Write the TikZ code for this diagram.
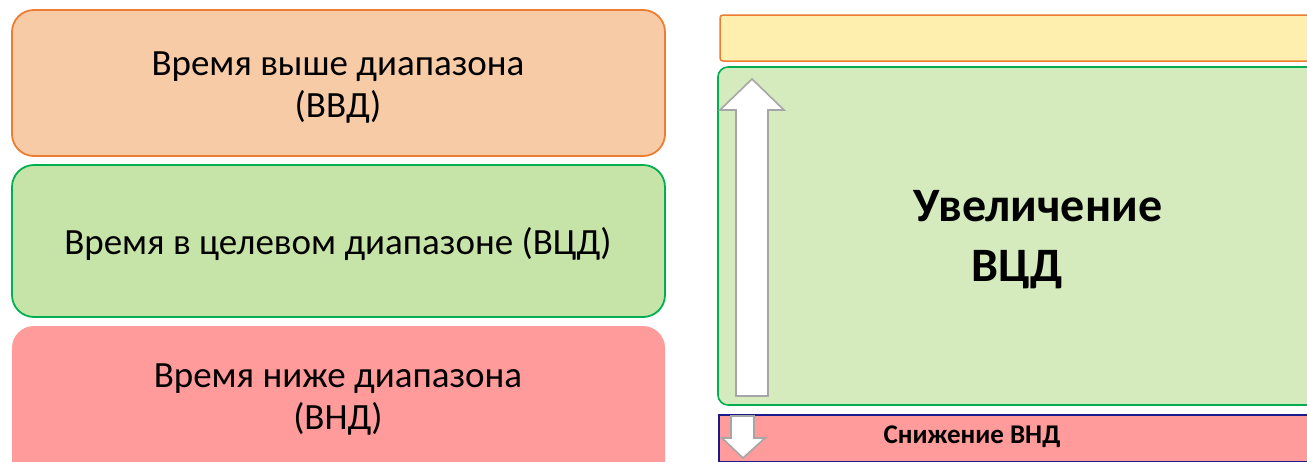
\documentclass[tikz,border=0pt]{standalone}
\usepackage{fontspec}
\setmainfont{Carlito}
\definecolor{orfill}{HTML}{F8CBA7}
\definecolor{ordraw}{HTML}{ED7D31}
\definecolor{grfill}{HTML}{C7E4A8}
\definecolor{grdraw}{HTML}{00B050}
\definecolor{rdfill}{HTML}{FF9B9B}
\definecolor{yefill}{HTML}{FFEFAF}
\definecolor{gr2fill}{HTML}{D5EABD}
\definecolor{navy}{HTML}{1A1A8C}
\definecolor{arrgray}{HTML}{A6A6A6}
\tikzset{
  lbox/.style={rounded corners=22pt, line width=1.8pt},
  lbl/.style={font=\fontsize{37}{42}\selectfont, align=center, text=black},
  arr/.style={fill=white, draw=arrgray, line width=1.6pt, line join=miter},
}
\begin{document}
\begin{tikzpicture}[x=1pt,y=-1pt]
\clip (0,0) rectangle (1307,461);
\fill[white] (0,0) rectangle (1307,461);
% left boxes
\draw[lbox, fill=orfill, draw=ordraw] (12,10) rectangle (665,156);
\draw[lbox, fill=grfill, draw=grdraw] (12,165) rectangle (665,317);
\fill[lbox, fill=rdfill] (12,326) rectangle (665,490);
\node[lbl] (t1) at (338,88) {Время выше диапазона\\(ВВД)};
\node[lbl] (t2) at (338,244) {Время в целевом диапазоне (ВЦД)};
\node[lbl] (t3) at (338,400) {Время ниже диапазона\\(ВНД)};
% right boxes
\draw[rounded corners=3pt, line width=1.5pt, fill=yefill, draw=ordraw] (720,15) rectangle (1330,61);
\draw[rounded corners=10pt, line width=1.6pt, fill=gr2fill, draw=grdraw] (718,67) rectangle (1330,405);
\draw[line width=1.5pt, fill=rdfill, draw=navy] (719,415) rectangle (1330,462);
% up arrow
\draw[arr] (752,79) -- (784,110) -- (768,110) -- (768,396) -- (736,396) -- (736,110) -- (720,110) -- cycle;
% down arrow
\draw[arr] (731,416) -- (754,416) -- (754,438) -- (765,438) -- (743,458) -- (722,438) -- (731,438) -- cycle;
\node[font=\bfseries\fontsize{48}{60}\selectfont, align=center] (t4) at (1038,240) {Увеличение\\\hspace*{-42pt}ВЦД};
\node[font=\bfseries\fontsize{27}{30}\selectfont] (t5) at (972,437) {Снижение ВНД};
\end{tikzpicture}
\end{document}
